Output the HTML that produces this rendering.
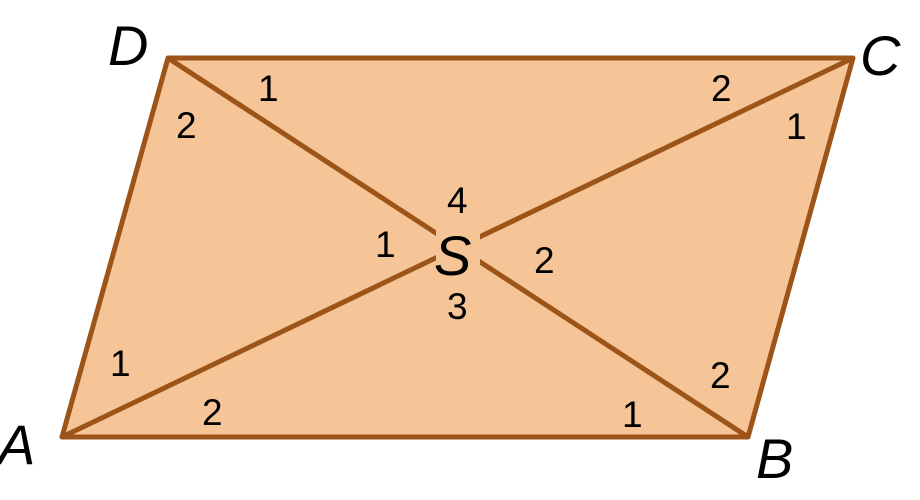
<!DOCTYPE html>
<html><head><meta charset="utf-8"><style>
html,body{margin:0;padding:0;background:#fff;}
svg{display:block;}
text{font-family:"Liberation Sans",sans-serif;fill:#000;}
</style></head><body>
<svg width="920" height="500" viewBox="0 0 920 500" xmlns="http://www.w3.org/2000/svg">
<polygon points="62,437 748,437 853,58 168,58" fill="#f6c597" stroke="#9c5418" stroke-width="5" stroke-linejoin="round"/>
<line x1="62" y1="437" x2="853" y2="58" stroke="#9c5418" stroke-width="5"/>
<line x1="168" y1="58" x2="748" y2="437" stroke="#9c5418" stroke-width="5"/>
<rect x="436" y="226" width="44" height="50" fill="#f6c597"/>
<g font-style="italic" font-size="56">
<text x="108" y="65">D</text>
<text x="860" y="75">C</text>
<text x="-2" y="464">A</text>
<text x="756" y="478">B</text>
<text x="434" y="275">S</text>
</g>
<g font-size="37">
<text x="258" y="101">1</text>
<text x="176" y="138">2</text>
<text x="711" y="101">2</text>
<text x="786" y="139">1</text>
<text x="447" y="213">4</text>
<text x="375" y="257">1</text>
<text x="534" y="273">2</text>
<text x="447" y="319">3</text>
<text x="110" y="376">1</text>
<text x="202" y="425">2</text>
<text x="622" y="427">1</text>
<text x="710" y="388">2</text>
</g>
</svg>
</body></html>
